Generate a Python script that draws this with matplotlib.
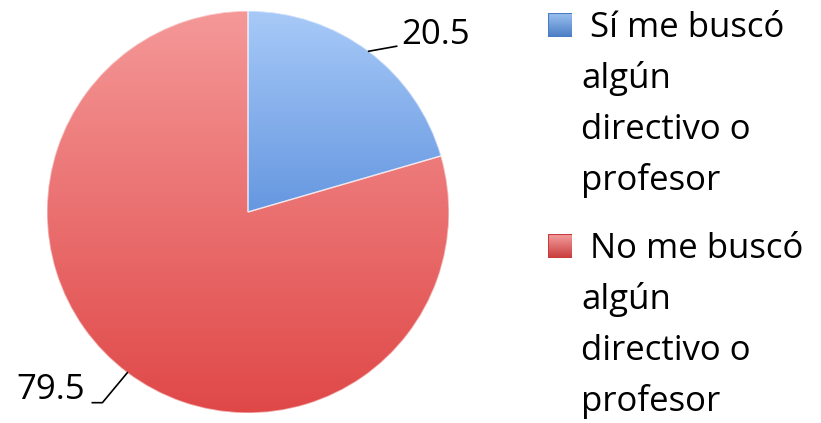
import textwrap
import numpy as np
import matplotlib
matplotlib.use("Agg")
import matplotlib.pyplot as plt
from matplotlib.colors import LinearSegmentedColormap
from matplotlib.patches import Rectangle, Wedge

# ---- data ----
categories = ["Sí me buscó algún directivo o profesor",
              "No me buscó algún directivo o profesor"]
values = [20.5, 79.5]
value_labels = ["20.5", "79.5"]

# ---- style ----
FONT = "Open Sans"
FS = 25
plt.rcParams["font.family"] = [FONT, "DejaVu Sans"]
W, H = 821, 423
fig = plt.figure(figsize=(W / 100, H / 100), dpi=100)

cx, cy, r = 248, 212, 201
ax = fig.add_axes([(cx - r) / W, (H - cy - r) / H, 2 * r / W, 2 * r / H])
ax.axis("off")

grads = [("#A8CAF8", "#6597E0"), ("#F59898", "#E04848")]
base = ["#7FA9E8", "#EC7A79"]

wedges, _ = ax.pie(values, startangle=90, counterclock=False,
                   colors=base, radius=1.0,
                   wedgeprops=dict(linewidth=0))
ax.set_xlim(-1, 1)
ax.set_ylim(-1, 1)
ax.set_aspect("equal")

grad = np.linspace(0, 1, 256).reshape(-1, 1)
for w, (top, bot) in zip(wedges, grads):
    cmap = LinearSegmentedColormap.from_list("g", [top, bot])
    ext = w.get_path().get_extents(w.get_patch_transform())
    im = ax.imshow(grad, cmap=cmap, extent=[-1, 1, ext.y0, ext.y1],
                   origin="upper", aspect="auto", zorder=w.get_zorder() + 0.1)
    im.set_clip_path(w)
ax.set_xlim(-1, 1)
ax.set_ylim(-1, 1)

# thin light edges on top
for w in wedges:
    e = Wedge(w.center, w.r, w.theta1, w.theta2, facecolor="none",
              edgecolor=(1, 1, 1, 0.55), linewidth=1.0, zorder=5)
    ax.add_patch(e)

# data labels with leader lines
for w, lab in zip(wedges, value_labels):
    ang = np.deg2rad((w.theta1 + w.theta2) / 2)
    px, py = np.cos(ang), np.sin(ang)
    if px > 0:
        x2, y2 = px + 0.139, py + 0.025
        ax.plot([px, x2], [py, y2], color="black", lw=1.2, zorder=6, clip_on=False)
        ax.text(x2 + 0.025, y2 + 0.055, lab, ha="left", va="center",
                fontsize=FS, color="black", clip_on=False)
    else:
        x2, y2 = px - 0.124, py - 0.149
        x3 = x2 - 0.05
        ax.plot([px, x2, x3], [py, y2, y2], color="black", lw=1.2, zorder=6, clip_on=False)
        ax.text(x3 - 0.035, y2 + 0.065, lab, ha="right", va="center",
                fontsize=FS, color="black", clip_on=False)

# legend (manual, wrapped text)
sq_colors = [("#9CC2F0", "#4A7CC4"), ("#F4A0A0", "#C83C3C")]
entry_top_baseline = [37, 258]
line_gap = 51
for i, (cat, (t, b)) in enumerate(zip(categories, sq_colors)):
    lines = textwrap.wrap(cat, width=12)
    y0 = entry_top_baseline[i]
    sx0, sy0, s = 548, y0 - 24, 24
    sax = fig.add_axes([sx0 / W, (H - sy0 - s) / H, s / W, s / H])
    sax.axis("off")
    cm = LinearSegmentedColormap.from_list("s", [t, b])
    sax.imshow(grad, cmap=cm, aspect="auto", extent=[0, 1, 0, 1], origin="upper")
    sax.add_patch(Rectangle((0, 0), 1, 1, fill=False, edgecolor=b, lw=0.8))
    for j, ln in enumerate(lines):
        x = 590 if j == 0 else 581
        fig.text(x / W, (H - (y0 + j * line_gap)) / H, ln, ha="left",
                 va="baseline", fontsize=FS, color="black")

fig.savefig("out.png", dpi=100)
